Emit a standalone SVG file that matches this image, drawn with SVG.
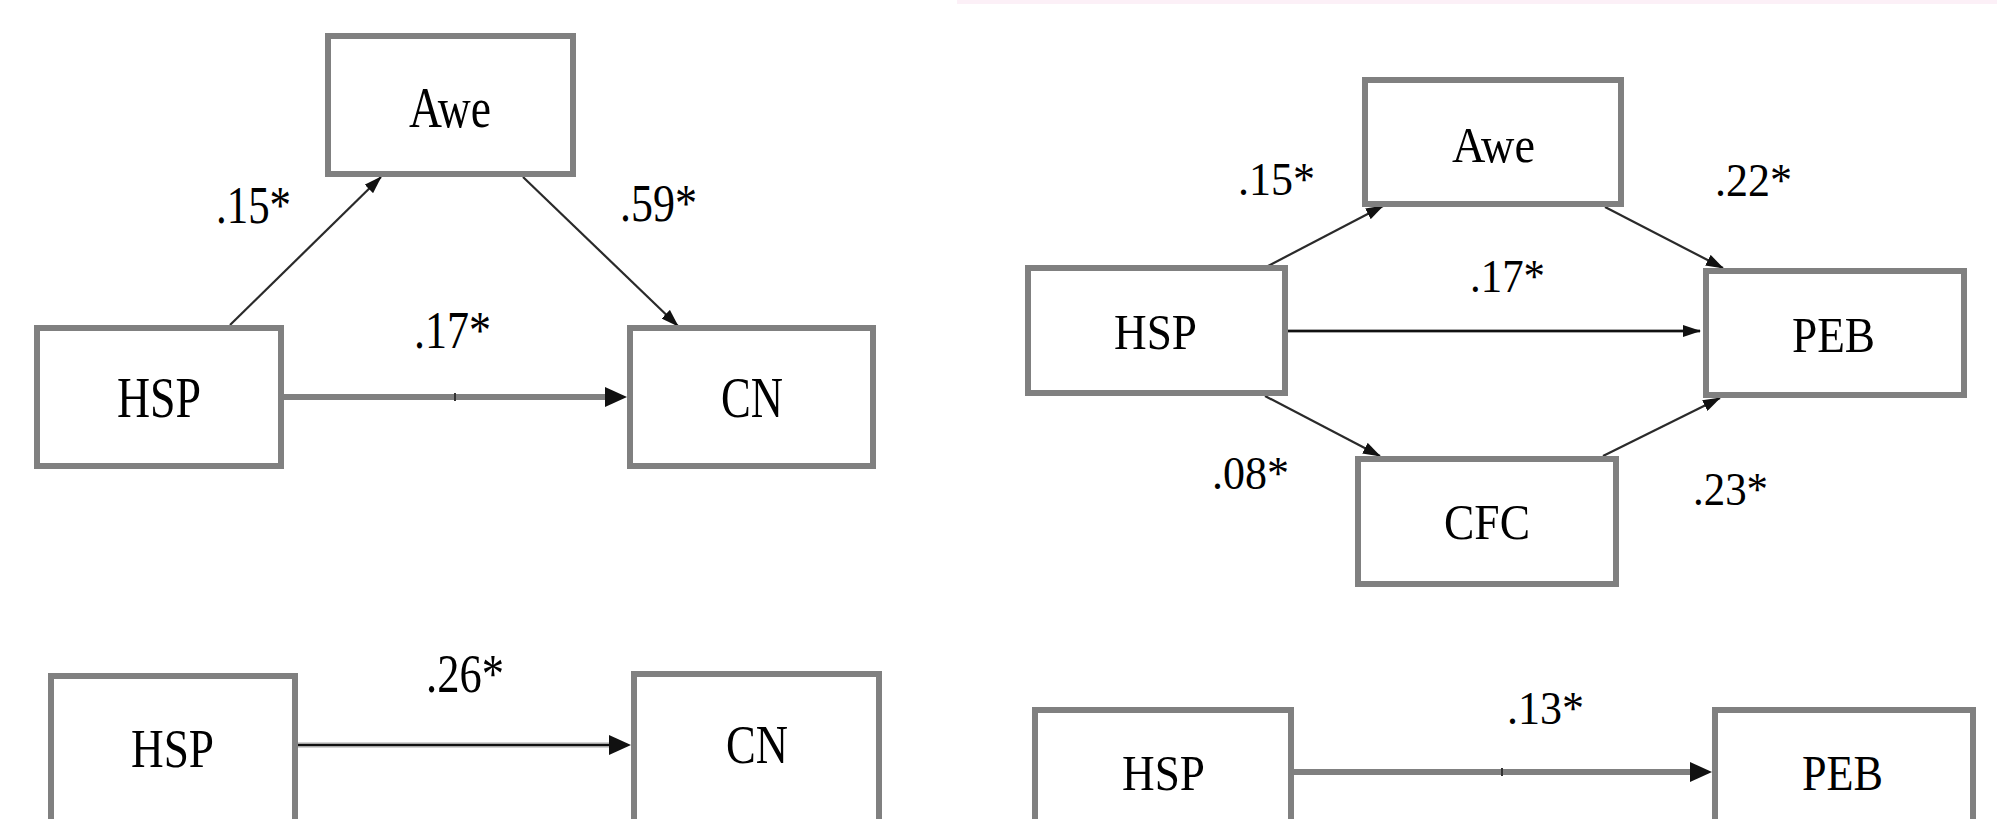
<svg xmlns="http://www.w3.org/2000/svg" width="1997" height="819" viewBox="0 0 1997 819">
<style>
.box{fill:#fff;stroke:#808080;stroke-width:6}
.t{font-family:"Liberation Serif","Times New Roman",serif;fill:#000;text-anchor:middle}
.lbl{font-family:"Liberation Serif","Times New Roman",serif;fill:#000}
.thin{stroke:#2a2a2a;stroke-width:2.2;fill:none}
.thick{stroke:#808080;stroke-width:6;fill:none}
.halo{stroke:#a8a8a8;stroke-width:5;fill:none}
.core{stroke:#111;stroke-width:2.2;fill:none}
.tick{stroke:#333;stroke-width:2}
</style>
<defs>
<marker id="aS" markerUnits="userSpaceOnUse" markerWidth="18" markerHeight="12" refX="17" refY="6" orient="auto">
<path d="M0,0 L18,6 L0,12 z" fill="#111"/>
</marker>
<marker id="aL" markerUnits="userSpaceOnUse" markerWidth="22" markerHeight="20" refX="15" refY="10" orient="auto">
<path d="M0,0 L22,10 L0,20 z" fill="#111"/>
</marker>
</defs>
<rect x="957" y="0" width="1040" height="4" fill="#fcf0f7"/>
<g id="connectors">
<line class="thin" x1="230" y1="325" x2="381" y2="177" marker-end="url(#aS)"/>
<line class="thin" x1="523" y1="177" x2="678" y2="326" marker-end="url(#aS)"/>
<line class="thick" x1="284" y1="397" x2="620" y2="397" marker-end="url(#aL)"/>
<line class="tick" x1="455" y1="393" x2="455" y2="401"/>
<line class="halo" x1="298" y1="745" x2="624" y2="745"/>
<line class="core" x1="298" y1="745" x2="624" y2="745" marker-end="url(#aL)"/>
<line class="thin" x1="1268" y1="266" x2="1383" y2="206" marker-end="url(#aS)"/>
<line class="thin" x1="1605" y1="207" x2="1723" y2="268" marker-end="url(#aS)"/>
<line class="halo" x1="1288" y1="331" x2="1700" y2="331" style="stroke-width:4"/>
<line class="core" x1="1288" y1="331" x2="1700" y2="331" marker-end="url(#aS)"/>
<line class="thin" x1="1265" y1="396" x2="1380" y2="456" marker-end="url(#aS)"/>
<line class="thin" x1="1603" y1="456" x2="1720" y2="398" marker-end="url(#aS)"/>
<line class="thick" x1="1294" y1="772" x2="1705" y2="772" marker-end="url(#aL)"/>
<line class="tick" x1="1502" y1="768" x2="1502" y2="776"/>
</g>
<g id="labels">
<text class="lbl" x="216" y="223" font-size="52" textLength="75" lengthAdjust="spacingAndGlyphs">.15*</text>
<text class="lbl" x="620" y="221" font-size="52" textLength="77" lengthAdjust="spacingAndGlyphs">.59*</text>
<text class="lbl" x="414" y="348" font-size="52" textLength="77" lengthAdjust="spacingAndGlyphs">.17*</text>
<text class="lbl" x="426" y="692" font-size="54" textLength="78" lengthAdjust="spacingAndGlyphs">.26*</text>
<text class="lbl" x="1238" y="195" font-size="47" textLength="77" lengthAdjust="spacingAndGlyphs">.15*</text>
<text class="lbl" x="1715" y="196" font-size="47" textLength="77" lengthAdjust="spacingAndGlyphs">.22*</text>
<text class="lbl" x="1470" y="292" font-size="47" textLength="75" lengthAdjust="spacingAndGlyphs">.17*</text>
<text class="lbl" x="1212" y="489" font-size="47" textLength="77" lengthAdjust="spacingAndGlyphs">.08*</text>
<text class="lbl" x="1693" y="505" font-size="47" textLength="75" lengthAdjust="spacingAndGlyphs">.23*</text>
<text class="lbl" x="1507" y="724" font-size="47" textLength="77" lengthAdjust="spacingAndGlyphs">.13*</text>
</g>
<g id="awe1"><rect class="box" x="328" y="36" width="245" height="138"/><text class="t" x="450" y="127" font-size="57" textLength="82" lengthAdjust="spacingAndGlyphs">Awe</text></g>
<g id="hsp1"><rect class="box" x="37" y="328" width="244" height="138"/><text class="t" x="159" y="417" font-size="57" textLength="84" lengthAdjust="spacingAndGlyphs">HSP</text></g>
<g id="cn1"><rect class="box" x="630" y="328" width="243" height="138"/><text class="t" x="752" y="417" font-size="57" textLength="62" lengthAdjust="spacingAndGlyphs">CN</text></g>
<g id="hsp2"><rect class="box" x="51" y="676" width="244" height="160"/><text class="t" x="172.5" y="767" font-size="54" textLength="83" lengthAdjust="spacingAndGlyphs">HSP</text></g>
<g id="cn2"><rect class="box" x="634" y="674" width="245" height="160"/><text class="t" x="757" y="763" font-size="54" textLength="62" lengthAdjust="spacingAndGlyphs">CN</text></g>
<g id="awe3"><rect class="box" x="1365" y="80" width="256" height="124"/><text class="t" x="1493.5" y="162" font-size="51" textLength="83" lengthAdjust="spacingAndGlyphs">Awe</text></g>
<g id="hsp3"><rect class="box" x="1028" y="268" width="257" height="125"/><text class="t" x="1155.5" y="349" font-size="51" textLength="83" lengthAdjust="spacingAndGlyphs">HSP</text></g>
<g id="peb3"><rect class="box" x="1706" y="271" width="258" height="124"/><text class="t" x="1833.5" y="352" font-size="51" textLength="83" lengthAdjust="spacingAndGlyphs">PEB</text></g>
<g id="cfc3"><rect class="box" x="1358" y="459" width="258" height="125"/><text class="t" x="1487" y="539" font-size="51" textLength="86" lengthAdjust="spacingAndGlyphs">CFC</text></g>
<g id="hsp4"><rect class="box" x="1035" y="710" width="256" height="130"/><text class="t" x="1163.5" y="790" font-size="51" textLength="83" lengthAdjust="spacingAndGlyphs">HSP</text></g>
<g id="peb4"><rect class="box" x="1715" y="710" width="258" height="130"/><text class="t" x="1842.5" y="790" font-size="51" textLength="81" lengthAdjust="spacingAndGlyphs">PEB</text></g>
</svg>
